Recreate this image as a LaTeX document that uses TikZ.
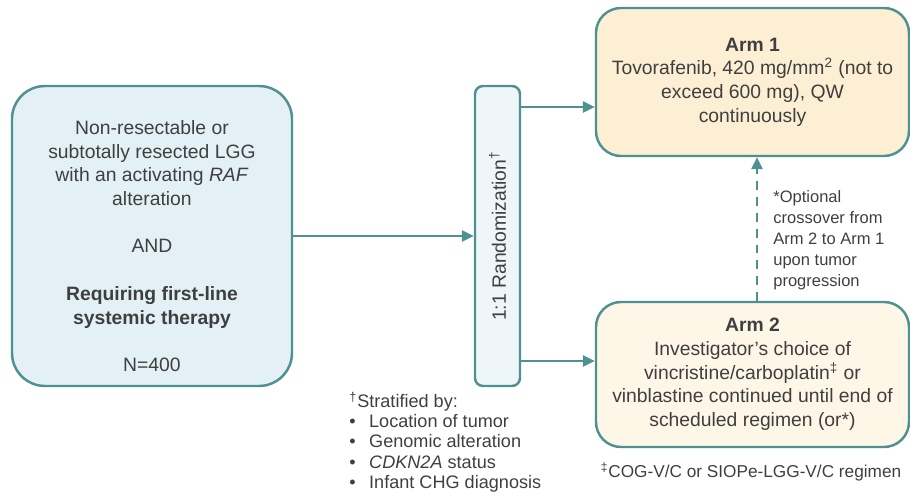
\documentclass[tikz,border=0pt]{standalone}
\usepackage{fontspec}
\setmainfont{Liberation Sans}
\usetikzlibrary{arrows.meta,positioning}
\definecolor{trialteal}{HTML}{4E9190}
\definecolor{trialtext}{HTML}{3F3F3F}
\definecolor{popblue}{HTML}{E3F1F6}
\definecolor{randblue}{HTML}{EEF6F9}
\definecolor{armone}{HTML}{FDEFD3}
\definecolor{armtwo}{HTML}{FEF6E7}

\begin{document}
\begin{tikzpicture}[
    font=\fontsize{11}{13.5}\selectfont, text=trialtext,
    box/.style={draw=trialteal, line width=1.4pt, rounded corners=0.5cm, align=center,
      inner sep=0pt},
    population/.style={box, fill=popblue, rounded corners=0.66cm,
      minimum width=5.6cm, minimum height=6cm},
    randbox/.style={box, fill=randblue, rounded corners=0.16cm,
      minimum width=0.9cm, minimum height=6cm},
    arm/.style={box, minimum width=6.26cm},
    note/.style={align=left, font=\fontsize{9.4}{12}\selectfont, inner sep=0pt},
    arrow/.style={-{Triangle[length=2.4mm, width=2.2mm]}, line width=1.4pt, draw=trialteal}
  ]
    \useasboundingbox (0,0) rectangle (18.2,9.84);

    \node[population] (pop) at (3.04,5.12) {};
    \node[align=center, inner sep=0pt] (poptext) at ([yshift=-0.2cm]pop.center) {Non-resectable or\\subtotally resected LGG\\with an activating \textit{RAF}\\alteration\\[13.5pt]AND\\[13.5pt]\textbf{Requiring first-line}\\\textbf{systemic therapy}\\[13.5pt]N=400};
    \node[randbox] (rand) at (9.95,5.12) {\rotatebox{90}{1:1 Randomization\textsuperscript{†}}};

    \node[arm, fill=armone, minimum height=2.96cm] (arm1) at (15.05,8.2) {\textbf{Arm 1}\\Tovorafenib, 420 mg/mm\textsuperscript{2} (not to\\exceed 600 mg), QW\\continuously};
    \node[arm, fill=armtwo, minimum height=2.9cm] (arm2) at (15.05,2.35) {\textbf{Arm 2}\\Investigator’s choice of\\vincristine/carboplatin\textsuperscript{‡} or\\vinblastine continued until end of\\scheduled regimen (or*)};

    \node[note, anchor=west] (cross) at (15.46,5.04) {*Optional\\crossover from\\Arm 2 to Arm 1\\upon tumor\\progression};
    \node[note, anchor=west, font=\fontsize{10.3}{11.5}\selectfont] (strat) at (6.98,1.0) {\textsuperscript{†}Stratified by:\\\textbullet\hspace{2.7mm}Location of tumor\\\textbullet\hspace{2.7mm}Genomic alteration\\\textbullet\hspace{2.7mm}\textit{CDKN2A} status\\\textbullet\hspace{2.7mm}Infant CHG diagnosis};
    \node[note, font=\fontsize{9.8}{12}\selectfont] (regimen) at (15.02,0.4) {\textsuperscript{‡}COG-V/C or SIOPe-LGG-V/C regimen};

    \draw[arrow] (pop) -- (rand);
    \draw[arrow] ([yshift=-0.5cm]arm1.west -| rand.east) -- ([yshift=-0.5cm]arm1.west);
    \draw[arrow] ([yshift=0.27cm]arm2.west -| rand.east) -- ([yshift=0.27cm]arm2.west);
    \draw[arrow, dash pattern=on 5pt off 4pt] ([xshift=0.09cm]arm2.north) -- ([xshift=0.09cm]arm1.south);
  \end{tikzpicture}
\end{document}
